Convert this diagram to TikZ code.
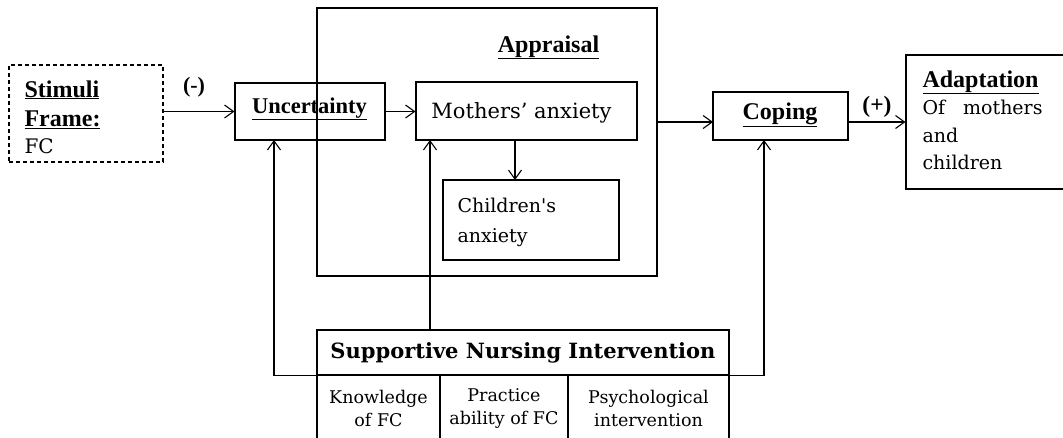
\documentclass[tikz,border=0pt]{standalone}
\usepackage{fontspec}
\setmainfont{DejaVu Serif}
\newfontfamily\tnr{Liberation Serif}
\usetikzlibrary{arrows.meta}

\begin{document}
\begin{tikzpicture}[x=1pt,y=-1pt,line width=1.1pt,>={Straight Barb[length=9pt,width=13pt]},
  box/.style={shape=rectangle,draw,inner sep=0pt},
  dashbox/.style={box,dash pattern=on 4pt off 3pt},
  head/.style={anchor=base,inner sep=0pt,font=\tnr\bfseries\fontsize{24}{24}\selectfont},
  txt/.style={anchor=base west,inner sep=0pt,font=\fontsize{19}{19}\selectfont},
  cell/.style={box,minimum height=67pt,align=center,font=\fontsize{17.5}{23}\selectfont}]
\useasboundingbox (0,0) rectangle (1063,437);
\clip (0,0) rectangle (1063,437);
% boxes
\node (stimuli)   at (86,113.5)  [dashbox,minimum width=154pt,minimum height=97pt] {};
\node (unc)       at (310,111.5) [box,minimum width=150pt,minimum height=57pt] {};
\node (appraisal) at (487,142)   [box,minimum width=340pt,minimum height=268pt] {};
\node (mothers)   at (526.5,111) [box,minimum width=221pt,minimum height=58pt] {};
\node (children)  at (531,220)   [box,minimum width=176pt,minimum height=80pt] {};
\node (coping)    at (780.5,116) [box,minimum width=135pt,minimum height=48pt] {};
\node (adapt)     at (988,122)   [box,minimum width=164pt,minimum height=134pt] {};
\node (sni)       at (523,352.5) [box,minimum width=412pt,minimum height=45pt,
                                  font=\bfseries\fontsize{21}{21}\selectfont] {Supportive Nursing Intervention};
\node (knowfc)    at (378.5,408.5) [cell,minimum width=123pt] {Knowledge\\of FC};
\node (practfc)   at (504,408.5)   [cell,minimum width=128pt] {Practice\\ability of FC};
\node (psych)     at (648.5,408.5) [cell,minimum width=161pt] {Psychological\\intervention};
% texts
\node (stimtxt)  at (24,97)  [head,anchor=base west] {\underline{Stimuli}};
\node (frametxt) at (24,126) [head,anchor=base west] {\underline{Frame:}};
\node (fctxt)    at (24,153) [txt,font=\fontsize{20}{20}\selectfont] {FC};
\node (minus)    at (194,92) [head,font=\tnr\bfseries\fontsize{22}{22}\selectfont] {(-)};
\node (unctxt)   at (309.5,113) [head,font=\tnr\bfseries\fontsize{22.5}{22.5}\selectfont] {\underline{Uncertainty}};
\node (apprtxt)  at (548.5,52) [head] {\underline{Appraisal}};
\node (mothtxt)  at (521.5,118) [txt,anchor=base,font=\fontsize{21}{21}\selectfont] {Mothers’ anxiety};
\node (childtxt1) at (457,212) [txt] {Children\textquotesingle s};
\node (childtxt2) at (457,242) [txt] {anxiety};
\node (copetxt)  at (780,119) [head] {\underline{Coping}};
\node (plus)     at (877,112) [head,font=\tnr\bfseries\fontsize{23.5}{23.5}\selectfont] {(+)};
\node (adapttxt) at (922,87)  [head,anchor=base west] {\underline{Adaptation}};
\node (adapt1)   at (922,114) [txt] {Of\hspace{18pt}mothers};
\node (adapt2)   at (922,142) [txt] {and};
\node (adapt3)   at (922,169) [txt] {children};
% connectors
\coordinate (childin) at (515,180);
\coordinate (copin) at (713,122);
\coordinate (uncin) at (274,140);
\coordinate (mothin) at (430,140);
\coordinate (copbot) at (764,140);
\draw [->] (stimuli.east |- unc.west) -- (unc.west);
\draw [->] (unc.east) -- (mothers.west |- unc.east);
\draw [->] (mothers.south -| childin) -- (childin);
\draw [->] (appraisal.east |- copin) -- (copin);
\draw [->] (coping.east |- copin) -- (adapt.west |- copin);
\draw [->] (sni.south west) -| (uncin);
\draw [->] (sni.north -| mothin) -- (mothin);
\draw [->] (sni.south east) -| (copbot);
\end{tikzpicture}
\end{document}
